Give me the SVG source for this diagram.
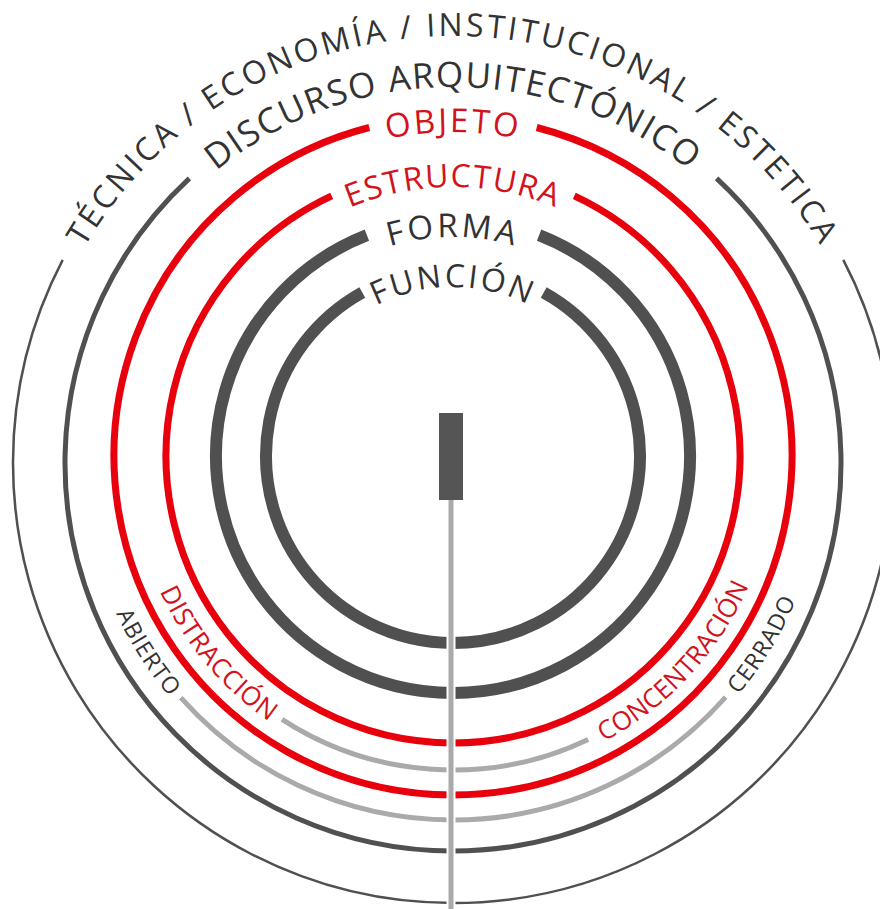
<svg xmlns="http://www.w3.org/2000/svg" width="880" height="909" viewBox="0 0 880 909">
<style>
.ring{fill:none;stroke-linecap:butt}
.dk{stroke:#505050}
.rd{stroke:#e8000d}
.gy{stroke:#aaaaaa}
.lbl{font-family:"Open Sans","Noto Sans","Liberation Sans",sans-serif}
.tdk{fill:#333333}
.trd{fill:#d4121c}
</style>
<defs>
<path id="pFun" d="M 284,456 A 169 169 0 0 1 622,456"/>
<path id="pFor" d="M 234,456 A 219 219 0 0 1 672,456"/>
<path id="pEst" d="M 184,456 A 269 269 0 0 1 722,456"/>
<path id="pObj" d="M 129,456 A 324 324 0 0 1 777,456"/>
<path id="pDis" d="M 77,463 A 376 376 0 0 1 829,463"/>
<path id="pTec" d="M 26,463 A 427 427 0 0 1 880,463"/>
<path id="pB1" d="M 130,456 A 323 323 0 0 0 776,456"/>
<path id="pB2" d="M 81,456 A 372 372 0 0 0 825,456"/>
</defs>
<rect width="880" height="909" fill="#ffffff"/>

<g id="outer">
<path class="ring dk" stroke-width="2.5" d="M 843.3,259.9 A 440 440 0 1 1 62.7,259.9"/>
<text class="lbl tdk" font-size="32" letter-spacing="3"><textPath href="#pTec" startOffset="50%" text-anchor="middle">TÉCNICA / ECONOMÍA / INSTITUCIONAL / ESTETICA</textPath></text>
</g>

<g id="discurso">
<path class="ring dk" stroke-width="5" d="M 716.6,178.3 A 388 388 0 1 1 189.4,178.3"/>
<text class="lbl tdk" font-size="35" letter-spacing="1.5"><textPath href="#pDis" startOffset="50%" text-anchor="middle">DISCURSO ARQUITECTÓNICO</textPath></text>
</g>

<g id="objeto">
<path class="ring rd" stroke-width="7" d="M 536.7,127.5 A 339 339 0 1 1 369.3,127.5"/>
<text class="lbl trd" font-size="33" letter-spacing="2.5"><textPath href="#pObj" startOffset="50%" text-anchor="middle">OBJETO</textPath></text>
</g>

<g id="estructura">
<path class="ring rd" stroke-width="7" d="M 574.3,195.9 A 287 287 0 1 1 331.7,195.9"/>
<text class="lbl trd" font-size="32" letter-spacing="1.5"><textPath href="#pEst" startOffset="50%" text-anchor="middle">ESTRUCTURA</textPath></text>
</g>

<g id="forma">
<path class="ring dk" stroke-width="12" d="M 539.1,235.2 A 237 237 0 1 1 366.9,235.2"/>
<text class="lbl tdk" font-size="33" letter-spacing="3"><textPath href="#pFor" startOffset="50%" text-anchor="middle">FORMA</textPath></text>
</g>

<g id="funcion">
<path class="ring dk" stroke-width="12" d="M 543.7,292.4 A 187 187 0 1 1 362.3,292.4"/>
<text class="lbl tdk" font-size="32" letter-spacing="2.5"><textPath href="#pFun" startOffset="50%" text-anchor="middle">FUNCIÓN</textPath></text>
</g>

<g id="distraccion-concentracion">
<path class="ring gy" stroke-width="5" d="M 282,719.3 A 314 314 0 0 0 588.2,739.4"/>
<text class="lbl trd" font-size="26" letter-spacing="0.5"><textPath href="#pB1" startOffset="312" text-anchor="end">DISTRACCIÓN</textPath></text>
<text class="lbl trd" font-size="26"><textPath href="#pB1" startOffset="664" text-anchor="start">CONCENTRACIÓN</textPath></text>
</g>

<g id="abierto-cerrado">
<path class="ring gy" stroke-width="5" d="M 180.8,697.7 A 364 364 0 0 0 725.6,697.2"/>
<text class="lbl tdk" font-size="23" letter-spacing="1"><textPath href="#pB2" startOffset="263" text-anchor="end">ABIERTO</textPath></text>
<text class="lbl tdk" font-size="23" letter-spacing="1"><textPath href="#pB2" startOffset="909" text-anchor="start">CERRADO</textPath></text>
</g>

<g id="connectors">
<line x1="451" y1="500" x2="451" y2="909" stroke="#ffffff" stroke-width="9"/>
<line x1="451" y1="500" x2="451" y2="909" stroke="#aaaaaa" stroke-width="5"/>
</g>

<g id="center">
<rect x="439" y="413" width="24" height="87" fill="#555555"/>
</g>
</svg>
